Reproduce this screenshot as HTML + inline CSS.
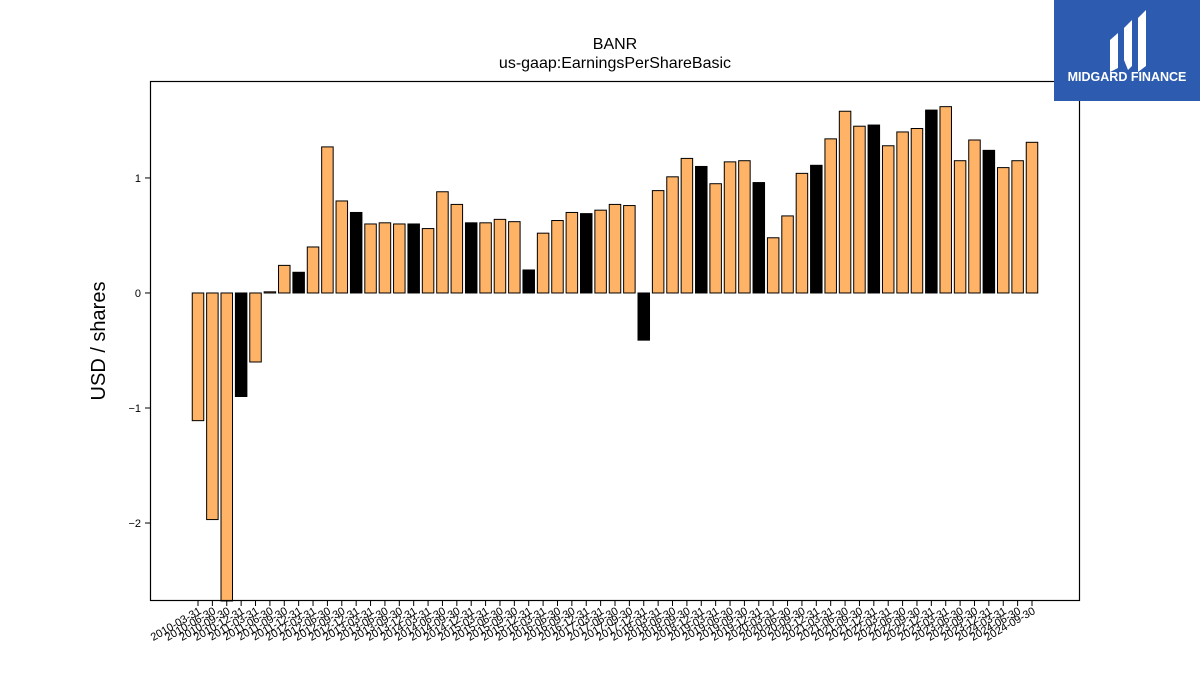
<!DOCTYPE html>
<html><head><meta charset="utf-8"><style>
body{margin:0;background:#fff;}
svg{display:block;font-family:"Liberation Sans","DejaVu Sans",sans-serif;}
</style></head><body>
<svg id="chart" width="1200" height="675" viewBox="0 0 1200 675" xmlns="http://www.w3.org/2000/svg">
<rect width="1200" height="675" fill="#fff"/>
<text x="615" y="49" font-size="16" text-anchor="middle">BANR</text>
<text x="615" y="68" font-size="16" text-anchor="middle">us-gaap:EarningsPerShareBasic</text>
<text transform="translate(105,341) rotate(-90)" font-size="20" text-anchor="middle">USD / shares</text>
<g id="bars"></g>
<g id="yticks"></g>
<g id="xticks"></g>
<rect x="150.5" y="81.5" width="929" height="519" fill="none" stroke="#000" stroke-width="1.2"/>
<g>
<rect x="1054" y="0" width="146" height="101" fill="#2c5bb0"/>
<path d="M1110 40 L1118 33 L1118 68 L1110 72 Z" fill="#fff"/>
<path d="M1124 28 L1132 20 L1132 66 L1128 70 L1124 60 Z" fill="#fff"/>
<path d="M1138 18 L1146 10 L1146 66 L1138 72 Z" fill="#fff"/>
<text x="1127" y="81" font-size="12.5" font-weight="bold" fill="#fff" text-anchor="middle">MIDGARD FINANCE</text>
</g>
</svg>
<script>
const dates = ["2010-03-31","2010-06-30","2010-09-30","2010-12-31","2011-03-31","2011-06-30","2011-09-30","2011-12-31","2012-03-31","2012-06-30","2012-09-30","2012-12-31","2013-03-31","2013-06-30","2013-09-30","2013-12-31","2014-03-31","2014-06-30","2014-09-30","2014-12-31","2015-03-31","2015-06-30","2015-09-30","2015-12-31","2016-03-31","2016-06-30","2016-09-30","2016-12-31","2017-03-31","2017-06-30","2017-09-30","2017-12-31","2018-03-31","2018-06-30","2018-09-30","2018-12-31","2019-03-31","2019-06-30","2019-09-30","2019-12-31","2020-03-31","2020-06-30","2020-09-30","2020-12-31","2021-03-31","2021-06-30","2021-09-30","2021-12-31","2022-03-31","2022-06-30","2022-09-30","2022-12-31","2023-03-31","2023-06-30","2023-09-30","2023-12-31","2024-03-31","2024-06-30","2024-09-30"];
const eps = [-1.11,-1.97,-2.68,-0.90,-0.60,0.01,0.24,0.18,0.40,1.27,0.80,0.70,0.60,0.61,0.60,0.60,0.56,0.88,0.77,0.61,0.61,0.64,0.62,0.20,0.52,0.63,0.70,0.69,0.72,0.77,0.76,-0.41,0.89,1.01,1.17,1.10,0.95,1.14,1.15,0.96,0.48,0.67,1.04,1.11,1.34,1.58,1.45,1.46,1.28,1.40,1.43,1.59,1.62,1.15,1.33,1.24,1.09,1.15,1.31];
const yTicks = [-2,-1,0,1];
const yTickLabels = ["\u22122","\u22121","0","1"];

const NS="http://www.w3.org/2000/svg";
const plotL=150, plotR=1080, plotT=81, plotB=601;
const yMin=-2.678, yMax=1.843;
function ys(v){return plotB-(v-yMin)/(yMax-yMin)*(plotB-plotT);}
const x0=198, x1=1032;
function xs(i){return x0+(x1-x0)*i/(dates.length-1);}
const step=(x1-x0)/(dates.length-1), bw=step*0.8;

const bars=document.getElementById('bars');
eps.forEach((v,i)=>{
  const r=document.createElementNS(NS,'rect');
  
  
  const vv=Math.max(v,yMin);
  const top=Math.min(ys(0),ys(vv)), h=Math.abs(ys(vv)-ys(0));
  r.setAttribute('x',xs(i)-bw/2);r.setAttribute('y',top);
  r.setAttribute('width',bw);r.setAttribute('height',Math.max(h,0.5));
  r.setAttribute('fill',(i%4===3)?'#000':'#ffb366');
  r.setAttribute('stroke','#000');r.setAttribute('stroke-width','1');
  bars.appendChild(r);
});
const yg=document.getElementById('yticks');
yTicks.forEach((t,k)=>{
  const y=ys(t);
  const l=document.createElementNS(NS,'line');
  
  
  l.setAttribute('x1',plotL-5);l.setAttribute('x2',plotL);l.setAttribute('y1',y);l.setAttribute('y2',y);
  l.setAttribute('stroke','#000');yg.appendChild(l);
  const tx=document.createElementNS(NS,'text');
  
  
  tx.setAttribute('x',plotL-9);tx.setAttribute('y',y+4);tx.setAttribute('font-size','11');
  tx.setAttribute('text-anchor','end');tx.textContent=yTickLabels[k];yg.appendChild(tx);
});
const xg=document.getElementById('xticks');
dates.forEach((d,i)=>{
  const x=xs(i);
  const l=document.createElementNS(NS,'line');
  
  
  l.setAttribute('x1',x);l.setAttribute('x2',x);l.setAttribute('y1',plotB);l.setAttribute('y2',plotB+5);
  l.setAttribute('stroke','#000');xg.appendChild(l);
  const tx=document.createElementNS(NS,'text');
  
  
  tx.setAttribute('transform','translate('+(x+4)+','+(plotB+12)+') rotate(-30)');
  tx.setAttribute('font-size','11');tx.setAttribute('text-anchor','end');
  tx.textContent=d;xg.appendChild(tx);
});
</script>
</body></html>
